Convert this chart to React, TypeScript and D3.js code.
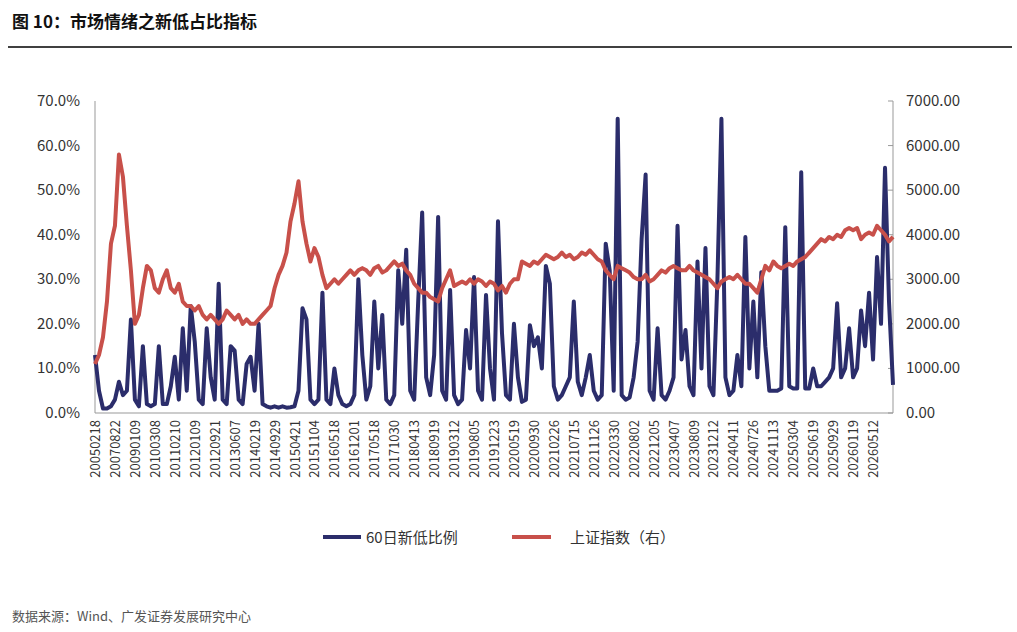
import * as d3 from "d3";

const dateLabels = [
  "20050218", "20070822", "20090109", "20100308", "20110210", "20120109", "20120921", "20130607",
  "20140219", "20140929", "20150421", "20151104", "20160518", "20161201", "20170518", "20171030",
  "20180413", "20180919", "20190312", "20190805", "20191223", "20200519", "20200930", "20210226",
  "20210715", "20211126", "20220330", "20220802", "20221205", "20230407", "20230809", "20231212",
  "20240411", "20240726", "20241113", "20250304", "20250619", "20250929", "20260119", "20260512",
];

// 60日新低比例 (%)
const newLowPct = [
  13, 5, 1, 1, 1.5, 3, 7, 4, 5, 21, 3, 1.5, 15, 2, 1.5, 2, 15, 2, 2, 6,
  12.6, 3, 19, 5, 24, 16, 3, 2, 19, 8, 3, 29, 3, 2, 15, 14, 3, 2, 11, 12.6,
  5, 20, 2, 1.5, 1.2, 1.5, 1.2, 1.5, 1.2, 1.3, 1.5, 5, 23.5, 21, 3, 2, 3, 27, 3, 2,
  10, 4, 2, 1.5, 2, 4, 30, 13, 3, 6, 25, 10, 22, 3, 2, 4, 32, 20, 36.6, 5,
  3, 25, 45, 8, 4, 13, 44, 5, 3, 27.6, 4, 2, 3, 18.6, 10, 30.5, 5, 3, 26.5, 10,
  3, 43, 18, 4, 3, 20, 8, 2.5, 3, 19.7, 15, 17, 10, 33, 29, 6, 3, 4, 6, 8,
  25, 7, 4, 8, 13, 5, 3, 4, 38, 32, 5, 66, 4, 3, 3.5, 8, 16, 39, 53.5, 5,
  3, 19, 4, 3, 5, 8, 42, 12, 18.6, 6, 4, 34, 10, 37, 6, 4, 30, 66, 8, 4,
  5, 13, 6, 39.5, 10, 25, 8, 31.6, 15, 5, 5, 5, 5.5, 41.7, 6, 5.5, 5.5, 54, 5.5, 5.5,
  10, 6, 6, 7, 8, 10, 24.6, 8, 10, 19, 8, 10, 23, 15, 27, 12, 35, 20, 55, 25,
  6.3,
];

// 上证指数
const shIndex = [
  1100, 1300, 1700, 2500, 3800, 4200, 5800, 5300, 4200, 3200, 2000, 2200, 2800, 3300, 3200, 2800, 2700, 3000, 3200, 2800,
  2700, 2900, 2500, 2400, 2400, 2300, 2400, 2200, 2100, 2200, 2100, 2000, 2100, 2300, 2200, 2100, 2200, 2000, 2100, 2000,
  2000, 2100, 2200, 2300, 2400, 2800, 3100, 3300, 3600, 4300, 4700, 5200, 4300, 3800, 3400, 3700, 3500, 3100, 2800, 2900,
  3000, 2900, 3000, 3100, 3200, 3100, 3200, 3250, 3200, 3100, 3250, 3300, 3150, 3200, 3300, 3400, 3300, 3350, 3200, 3100,
  2900, 2800, 2700, 2700, 2600, 2550, 2500, 2800, 3000, 3200, 2850, 2900, 2950, 2900, 3000, 2900, 3000, 2950, 2850, 2950,
  2900, 2750, 2850, 2700, 2900, 3000, 3000, 3400, 3350, 3300, 3400, 3350, 3450, 3550, 3500, 3450, 3500, 3600, 3500, 3550,
  3450, 3500, 3600, 3550, 3650, 3550, 3450, 3400, 3200, 3100, 3000, 3300, 3250, 3200, 3150, 3050, 3000, 3000, 3100, 2950,
  3000, 3100, 3200, 3150, 3250, 3300, 3250, 3200, 3200, 3300, 3200, 3150, 3100, 3050, 3000, 2900, 2800, 2950, 3000, 3050,
  3000, 3100, 3000, 2900, 2900, 2800, 2700, 3000, 3300, 3200, 3400, 3300, 3250, 3300, 3350, 3300, 3400, 3450, 3500, 3600,
  3700, 3800, 3900, 3850, 3950, 3900, 4000, 3950, 4100, 4150, 4100, 4150, 3900, 4000, 4050, 4000, 4200, 4100, 4000, 3850,
  3950,
];

const leftTicks = [0, 10, 20, 30, 40, 50, 60, 70];
const rightTicks = [0, 1000, 2000, 3000, 4000, 5000, 6000, 7000];

const W = 1017;
const H = 632;
const m = { left: 95, right: 893, top: 101, bottom: 413 };
const font = "'Noto Sans CJK SC', 'Noto Sans', sans-serif";

export default function App() {
  const n = newLowPct.length;
  const x = d3.scaleLinear().domain([0, n - 1]).range([m.left, m.right]);
  const yL = d3.scaleLinear().domain([0, 70]).range([m.bottom, m.top]);
  const yR = d3.scaleLinear().domain([0, 7000]).range([m.bottom, m.top]);

  const blueLine = d3.line<number>().x((_, i) => x(i)).y((d) => yL(d))(newLowPct) || "";
  const redLine = d3.line<number>().x((_, i) => x(i)).y((d) => yR(d))(shIndex) || "";
  const labelStep = (n - 1) / dateLabels.length;

  return (
    <svg width={W} height={H} style={{ position: "absolute", left: 0, top: 0, background: "#fff" }} fontFamily={font}>
      <text x={12} y={28} fontSize={17} fontWeight="bold" fill="#111">图 10：市场情绪之新低占比指标</text>
      <line x1={8} x2={1012} y1={47} y2={47} stroke="#000" strokeWidth={1.5} />

      {/* axes */}
      <line x1={m.left} x2={m.left} y1={m.top} y2={m.bottom} stroke="#999" />
      <line x1={m.right} x2={m.right} y1={m.top} y2={m.bottom} stroke="#999" />
      <line x1={m.left} x2={m.right} y1={m.bottom} y2={m.bottom} stroke="#999" />
      {leftTicks.map((t) => (
        <text key={t} x={80} y={yL(t) + 5} textAnchor="end" fontSize={15} fill="#333">{t.toFixed(1)}%</text>
      ))}
      {rightTicks.map((t) => (
        <g key={t}>
          <line x1={m.right - 5} x2={m.right} y1={yR(t)} y2={yR(t)} stroke="#999" />
          <text x={906} y={yR(t) + 5} fontSize={15} fill="#333">{t.toFixed(2)}</text>
        </g>
      ))}
      {dateLabels.map((d, k) => {
        const px = x(k * labelStep) + 5;
        return (
          <text key={d} transform={`translate(${px},420) rotate(-90)`} textAnchor="end" fontSize={13} fill="#333">{d}</text>
        );
      })}

      <path d={blueLine} fill="none" stroke="#2b2d6b" strokeWidth={4} strokeLinejoin="round" />
      <path d={redLine} fill="none" stroke="#c8504a" strokeWidth={4} strokeLinejoin="round" />

      {/* legend */}
      <line x1={323} x2={361} y1={537} y2={537} stroke="#2b2d6b" strokeWidth={4} />
      <text x={366} y={543} fontSize={15} fill="#333">60日新低比例</text>
      <line x1={512} x2={551} y1={537} y2={537} stroke="#c8504a" strokeWidth={4} />
      <text x={570} y={543} fontSize={15} fill="#333">上证指数（右）</text>

      <text x={12} y={621} fontSize={13} fill="#555">数据来源：Wind、广发证券发展研究中心</text>
    </svg>
  );
}
